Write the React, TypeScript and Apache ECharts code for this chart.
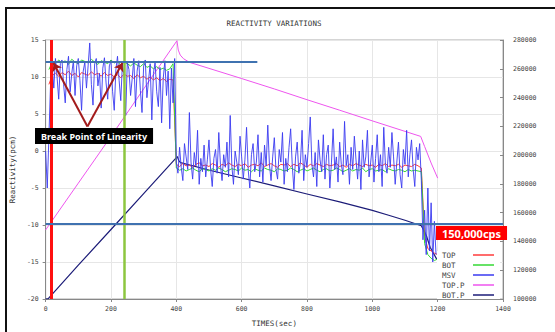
import React, { useEffect, useRef } from "react";
import * as echarts from "echarts";

const MONO = '"DejaVu Sans Mono", monospace';
const SANS = '"Noto Sans", "Liberation Sans", sans-serif';

const TITLE = "REACTIVITY VARIATIONS";
const X_NAME = "TIMES(sec)";
const Y_NAME = "Reactivity(pcm)";
const LEGEND_NAMES = ["TOP", "BOT", "MSV", "TOP.P", "BOT.P"];

// MSV (blue), sampled every 5 s starting at t = 0
const MSV_START = 0;
const MSV_STEP = 5;
const MSV_VALUES = [
  0, -5, 2, 9, 11.5, 8.5, 12.5, 10, 7, 11.8, 12.3, 9, 6.5, 11, 12.8, 8, 10.5, 12.2, 7.5, 11.5,
  12.5, 9.5, 5.5, 10.8, 12, 8.5, 11.5, 14.6, 9, 6.2, 11.8, 12.5, 8.8, 10.5, 5.8, 11.2, 12.6, 9.2, 7, 11.5,
  12.2, 8, 5.5, 11, 12.8, 9.5, 6.8, 11.8, 10.2, 4.8, 12, 11, 7.5, 9.8, 12.5, 6, 10.8, 12.2, 8.2, 5.2,
  11.5, 12.3, 7.2, 9.5, 11.8, 4.2, 10.5, 12, 8, 6, 11.3, 3.8, 9.8, 12.2, 7.5, 10.8, 3, 11.2, 6.5, 12.5,
  -1.5, -3.0, 0.5, -2.2, -4.0, 1.0, -0.8, -2.5, 5.2, -1.5, -3.8, -0.2, -2.0, 2.8, -4.5, -1.0, -2.8, 0.8, -3.5, -1.2,
  1.5, -2.5, -4.8, -1.0, 0.2, -3.0, 2.5, -1.8, -4.0, -0.5, -2.2, 1.2, -3.5, 4.8, -2.0, -4.5, 0.0, -1.5, -3.2, 2.0,
  -0.8, -3.8, -1.2, 3.2, -2.5, -5.0, -0.5, 1.0, -2.8, -1.5, 2.2, -3.5, -0.2, -4.2, 0.8, -2.0, 3.5, -1.8, -4.0, -0.8,
  1.8, -2.5, -3.8, 0.2, -1.5, 2.5, -4.5, -1.0, -2.8, 0.5, 3.0, -2.0, -5.2, -0.8, 1.2, -3.0, -1.5, 2.8, -4.0, -0.5,
  -2.2, 1.0, 4.6, -1.8, -3.5, -0.2, -4.8, 1.5, -1.2, -2.8, 2.2, -3.8, -0.5, 0.8, -5.0, -1.5, 3.0, -2.5, -0.8, -4.2,
  1.2, -1.8, -3.2, 4.0, -2.0, -0.5, -4.5, 0.5, -2.5, 2.0, -1.2, -3.8, 0.0, -5.2, 1.5, -2.2, -0.8, 2.8, -3.5, -1.5,
  0.8, -4.2, -1.0, 2.2, -2.8, -0.5, -4.8, 3.2, -1.8, -3.0, 0.5, -2.2, 2.5, -0.8, -4.5, -1.5, 1.2, -3.2, -5.0, 0.2,
  -1.8, 2.8, -3.5, -0.5, 1.5, -2.5, -4.8, 0.5, -1.2, 1.0, -4, -12, -8, -14, -5, -13.5, -7, -15, -9.5, -14,
];

// TOP (red) and BOT (green), sampled every 10 s starting at t = 10
const TB_START = 10;
const TB_STEP = 10;
const TOP_VALUES = [
  9.0, 10.2, 10.5, 10.1, 10.6, 10.3, 10.8, 10.2, 10.5, 10.0, 10.6, 10.4, 10.2, 10.7, 10.3, 10.5, 10.1, 10.6, 10.2, 10.4,
  10.0, 10.3, 9.9, 10.4, 10.1, 10.2, 9.8, 10.3, 9.9, 10.1, 9.7, 10.0, 9.6, 9.9, 9.5, 9.8, 9.4, 9.7, 9.6,
  -1.8, -2.1, -1.7, -2.0, -1.9, -2.2, -1.8, -1.6, -2.0, -1.9,
  -2.1, -1.7, -1.9, -2.2, -1.8, -2.0, -1.6, -1.9, -2.1, -1.8,
  -2.0, -1.7, -2.2, -1.9, -1.8, -2.0, -1.6, -2.1, -1.9, -1.7,
  -2.0, -2.2, -1.8, -1.9, -1.7, -2.1, -1.8, -2.0, -1.6, -1.9,
  -2.2, -1.8, -2.0, -1.7, -1.9, -2.1, -1.8, -2.0, -1.9, -1.7,
  -2.1, -1.9, -2.2, -1.8, -2.0, -1.7, -1.9, -2.1, -1.8, -2.0,
  -1.9, -2.2, -1.8, -2.0, -1.7, -2.1, -1.9, -2.0, -1.8, -2.2,
  -1.9, -2.0, -2.1, -1.8, -2.0,
  -2.3, -11.5, -13.2, -13.5, -13.8, -14.0,
];
const BOT_VALUES = [
  11.0, 12.0, 11.8, 12.3, 11.9, 12.2, 11.7, 12.4, 12.0, 11.8, 12.3, 12.1, 11.9, 12.4, 12.0, 11.7, 12.2, 12.0, 11.8, 12.3,
  11.9, 12.1, 11.6, 12.0, 11.8, 11.5, 11.9, 11.6, 11.4, 11.8, 11.3, 11.5, 11.1, 11.4, 11.0, 11.2, 10.9, 11.1, 11.8,
  -2.3, -2.6, -2.4, -2.7, -2.5, -2.3, -2.6, -2.8, -2.4, -2.5,
  -2.7, -2.4, -2.6, -2.3, -2.5, -2.8, -2.6, -2.4, -2.5, -2.7,
  -2.3, -2.6, -2.5, -2.8, -2.4, -2.6, -2.7, -2.3, -2.5, -2.6,
  -2.8, -2.4, -2.5, -2.7, -2.6, -2.3, -2.5, -2.8, -2.6, -2.4,
  -2.7, -2.5, -2.3, -2.6, -2.8, -2.5, -2.4, -2.7, -2.6, -2.3,
  -2.5, -2.8, -2.6, -2.4, -2.7, -2.5, -2.6, -2.3, -2.8, -2.5,
  -2.4, -2.7, -2.6, -2.5, -2.8, -2.4, -2.6, -2.7, -2.5, -2.6,
  -2.8, -2.5, -2.7, -2.6, -2.7,
  -2.8, -12.5, -14.0, -14.5, -14.8, -14.6,
];

// TOP.P (magenta) and BOT.P (navy) counts, right axis, [time, cps]
const TOP_P: [number, number][] = [
  [0, 148000], [100, 180500], [200, 213000], [300, 246000], [402, 279500], [406, 273000],
  [412, 269500], [422, 267000], [440, 264500], [500, 260300], [600, 253200], [700, 246000],
  [800, 238500], [900, 231200], [1000, 223800], [1100, 216500], [1148, 213000], [1160, 206000],
  [1180, 194500], [1200, 184000],
];
const BOT_P: [number, number][] = [
  [0, 100000], [8, 100300], [100, 123500], [200, 148300], [300, 173300], [403, 199000],
  [408, 196000], [413, 194800], [505, 189300], [600, 184100], [700, 178600], [800, 173000],
  [900, 167500], [1000, 161600], [1050, 158200], [1100, 154700], [1150, 150900], [1165, 144300],
  [1177, 136000], [1197, 127700],
];

// annotation anchors (data coordinates)
const RED_MARK_T = 17;
const GREEN_MARK_T = 240;
const LINEARITY_LEVEL = 12;
const LINEARITY_END_T = 648;
const CPS_LEVEL = -9.8;
const ARROW_BASE: [number, number] = [128, 3.3];
const ARROW_TIP_L: [number, number] = [24, 11.9];
const ARROW_TIP_R: [number, number] = [235, 11.9];
const BREAK_LABEL = "Break Point of Linearity";
const CPS_LABEL = "150,000cps";

function grid(start: number, step: number, values: number[]): [number, number][] {
  return values.map((v, i) => [start + i * step, v]);
}

export default function App() {
  const ref = useRef<HTMLDivElement>(null);
  useEffect(() => {
    if (!ref.current) return;
    const chart = echarts.init(ref.current, undefined, { renderer: "svg" });
    const axisLabel = {
      fontFamily: MONO,
      fontSize: 6.5,
      color: "#444",
      formatter: (v: number) => String(v),
    };
    const blueLine = { color: "#3f72b0", width: 2, type: "solid" };
    const arrowLine = { color: "#a31b1b", width: 2, type: "solid" };
    chart.setOption({
      animation: false,
      backgroundColor: "#fff",
      title: {
        text: TITLE,
        left: 274,
        top: 19,
        textAlign: "center",
        padding: 0,
        textStyle: { fontFamily: MONO, fontSize: 7.5, fontWeight: "normal", color: "#333" },
      },
      grid: { left: 45, right: 52, top: 40, bottom: 32, show: true, borderColor: "#aaa", borderWidth: 1 },
      legend: {
        orient: "vertical",
        left: 437,
        top: 251,
        align: "right",
        icon: "rect",
        itemWidth: 21,
        itemHeight: 1.5,
        itemGap: 2,
        padding: [0, 6, 0, 5],
        backgroundColor: "#fff",
        selectedMode: false,
        data: LEGEND_NAMES,
        formatter: "{n|{name}}",
        textStyle: {
          fontFamily: MONO,
          fontSize: 7.5,
          color: "#444",
          rich: { n: { width: 26, align: "left", fontFamily: MONO, fontSize: 7.5, lineHeight: 10, color: "#444" } },
        },
      },
      xAxis: {
        type: "value",
        min: 0,
        max: 1400,
        interval: 200,
        name: X_NAME,
        nameLocation: "middle",
        nameGap: 20,
        nameTextStyle: { fontFamily: MONO, fontSize: 7.5, color: "#333" },
        axisLine: { onZero: false, lineStyle: { color: "#888" } },
        axisTick: { show: true, length: 3, lineStyle: { color: "#888" } },
        axisLabel: { ...axisLabel, margin: 6 },
        splitLine: { show: true, lineStyle: { color: "#e6e6e6" } },
      },
      yAxis: [
        {
          type: "value",
          min: -20,
          max: 15,
          interval: 5,
          name: Y_NAME,
          nameLocation: "middle",
          nameGap: 25,
          nameRotate: 90,
          nameTextStyle: { fontFamily: MONO, fontSize: 7.5, color: "#333" },
          axisLine: { show: true, onZero: false, lineStyle: { color: "#888" } },
          axisTick: { show: true, length: 3, lineStyle: { color: "#888" } },
          axisLabel: { ...axisLabel, margin: 7 },
          splitLine: { show: true, lineStyle: { color: "#e6e6e6" } },
        },
        {
          type: "value",
          min: 100000,
          max: 280000,
          interval: 20000,
          position: "right",
          axisLine: { show: true, onZero: false, lineStyle: { color: "#888" } },
          axisTick: { show: true, length: 3, inside: true, lineStyle: { color: "#888" } },
          axisLabel: { ...axisLabel, margin: 10 },
          splitLine: { show: false },
        },
      ],
      series: [
        {
          name: "TOP.P",
          type: "line",
          yAxisIndex: 1,
          symbol: "none",
          data: TOP_P,
          color: "#ee55ee",
          lineStyle: { width: 1, color: "#ee55ee" },
          silent: true,
        },
        {
          name: "BOT.P",
          type: "line",
          yAxisIndex: 1,
          symbol: "none",
          data: BOT_P,
          color: "#1c1c78",
          lineStyle: { width: 1.2, color: "#1c1c78" },
          silent: true,
        },
        {
          name: "TOP",
          type: "line",
          symbol: "none",
          data: grid(TB_START, TB_STEP, TOP_VALUES),
          color: "#ff3b3b",
          lineStyle: { width: 1, color: "#ff3b3b" },
          silent: true,
        },
        {
          name: "BOT",
          type: "line",
          symbol: "none",
          data: grid(TB_START, TB_STEP, BOT_VALUES),
          color: "#35d835",
          lineStyle: { width: 1, color: "#35d835" },
          silent: true,
        },
        {
          name: "MSV",
          type: "line",
          symbol: "none",
          data: grid(MSV_START, MSV_STEP, MSV_VALUES),
          color: "#3a3af0",
          lineStyle: { width: 0.9, color: "#3a3af0" },
          silent: true,
        },
        {
          name: "annot",
          type: "line",
          data: [],
          z: 5,
          silent: true,
          markLine: {
            silent: true,
            symbol: "none",
            symbolSize: 8,
            label: { show: false },
            emphasis: { disabled: true },
            data: [
              { xAxis: RED_MARK_T, lineStyle: { color: "#ff1010", width: 3, type: "solid" } },
              { xAxis: GREEN_MARK_T, lineStyle: { color: "#8dc63f", width: 2.5, type: "solid" } },
              [
                { coord: [0, LINEARITY_LEVEL], lineStyle: blueLine },
                { coord: [LINEARITY_END_T, LINEARITY_LEVEL] },
              ],
              [
                { coord: [0, CPS_LEVEL], lineStyle: blueLine },
                { coord: [1400, CPS_LEVEL] },
              ],
              [
                { coord: ARROW_BASE, symbol: "none", lineStyle: arrowLine },
                { coord: ARROW_TIP_L, symbol: "arrow", symbolSize: 8 },
              ],
              [
                { coord: ARROW_BASE, symbol: "none", lineStyle: arrowLine },
                { coord: ARROW_TIP_R, symbol: "arrow", symbolSize: 8 },
              ],
            ],
          },
        },
      ],
      graphic: [
        {
          type: "rect",
          z: 100,
          silent: true,
          shape: { x: 6, y: 8, width: 600, height: 400 },
          style: { fill: "none", stroke: "#111", lineWidth: 2 },
        },
        {
          type: "text",
          z: 100,
          left: 35,
          top: 128,
          silent: true,
          style: {
            text: BREAK_LABEL,
            fill: "#fff",
            font: `bold 9px ${SANS}`,
            backgroundColor: "#000",
            padding: [4, 6, 3, 6],
          },
        },
        {
          type: "text",
          z: 100,
          left: 436,
          top: 226,
          silent: true,
          style: {
            text: CPS_LABEL,
            fill: "#fff",
            font: `bold 11px ${SANS}`,
            backgroundColor: "#ff0000",
            padding: [2, 6, 1, 6],
          },
        },
      ],
    });
    return () => chart.dispose();
  }, []);
  return <div ref={ref} style={{ position: "absolute", left: 0, top: 0, width: 555, height: 332 }} />;
}
